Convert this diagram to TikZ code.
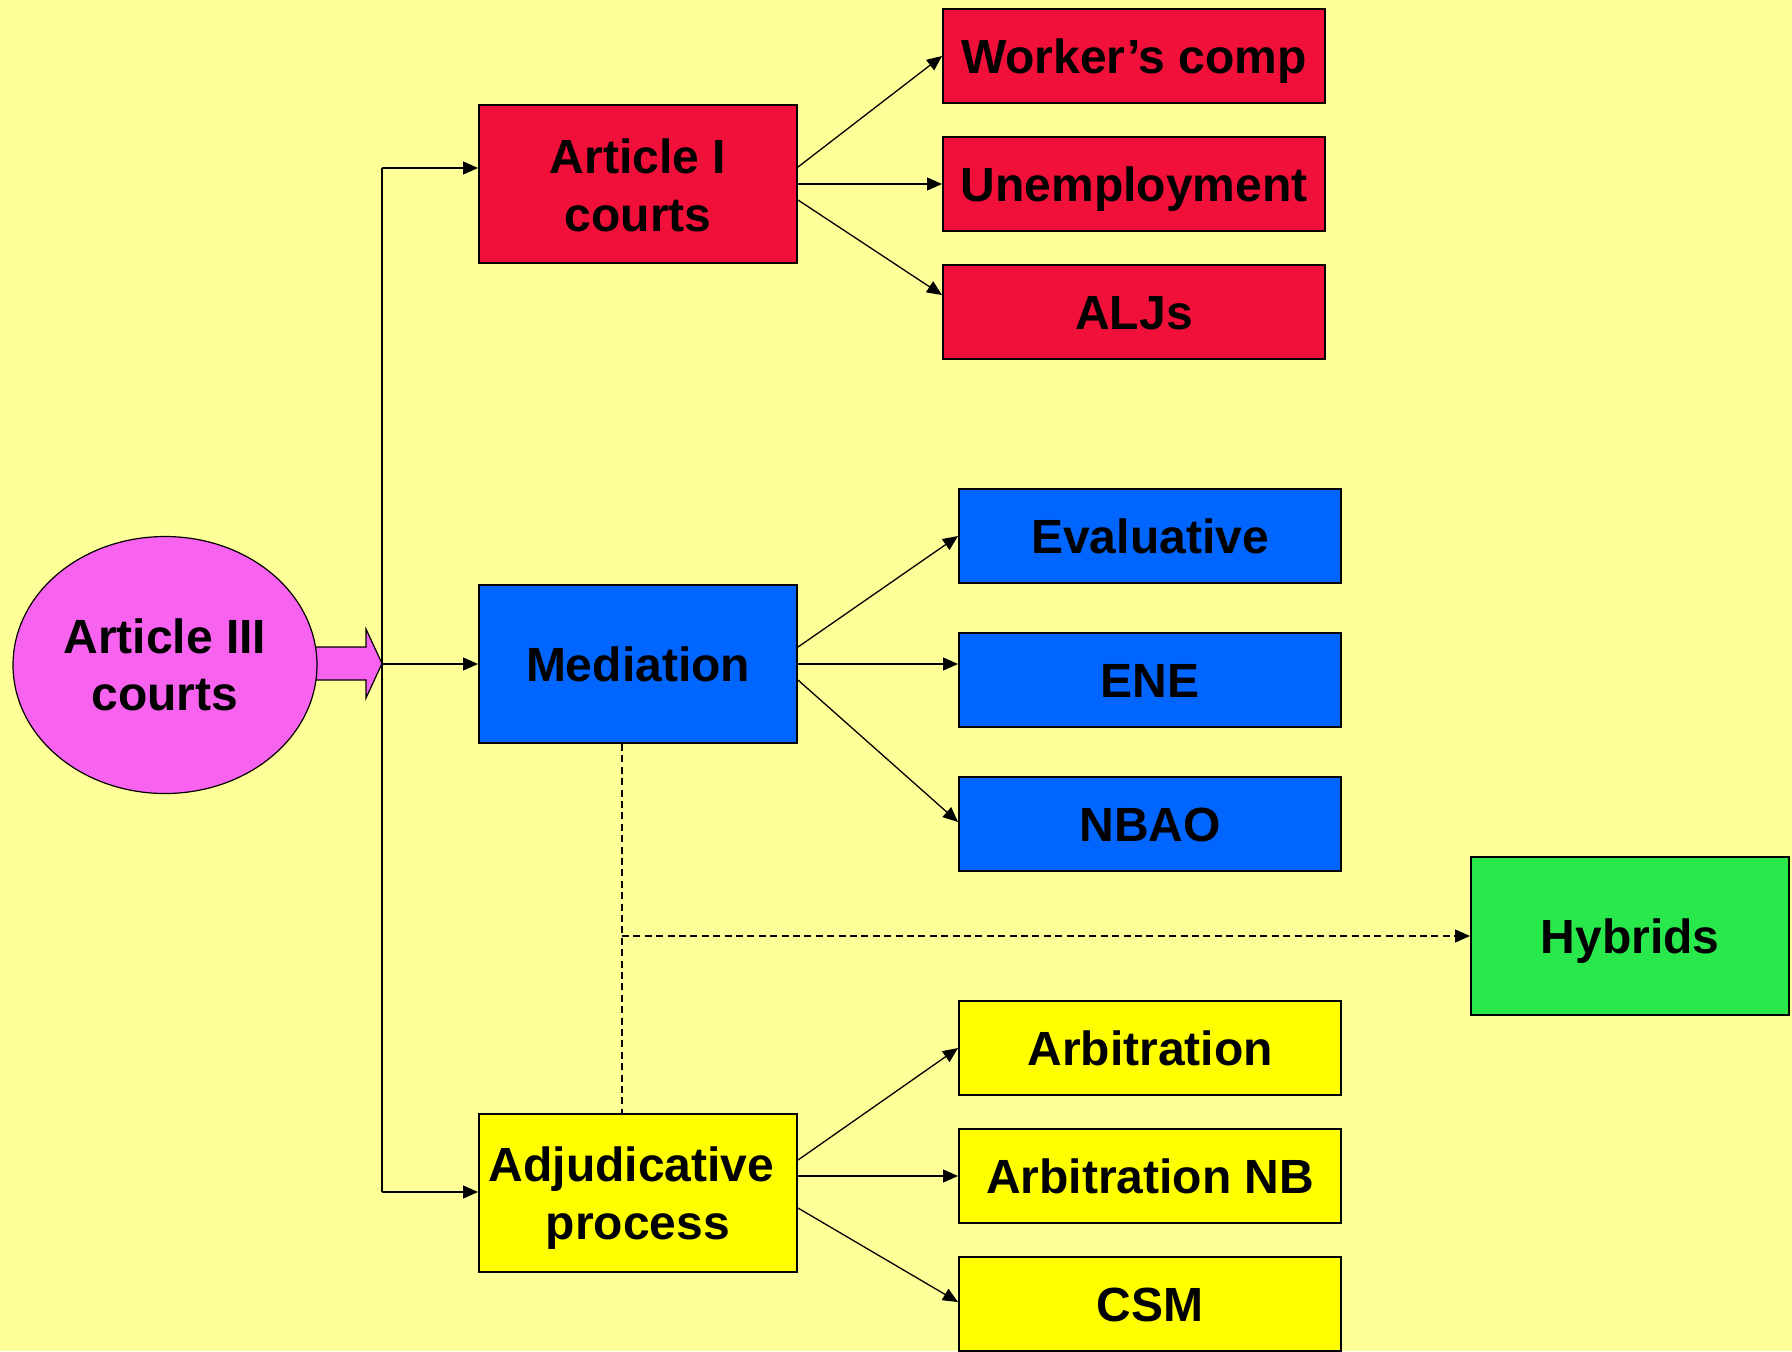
\documentclass[tikz,border=0pt]{standalone}
\usepackage{fontspec}
\setmainfont{Liberation Sans}
\usetikzlibrary{arrows.meta,calc,shapes.geometric}
\definecolor{bgyellow}{HTML}{FFFF99}
\definecolor{boxred}{HTML}{F0103A}
\definecolor{boxblue}{HTML}{0066FF}
\definecolor{boxgreen}{HTML}{28E84C}
\definecolor{boxyellow}{HTML}{FFFF00}
\definecolor{ovalpink}{HTML}{F763EE}
\tikzset{
  lbl/.style={font=\fontsize{24pt}{28.8pt}\selectfont\bfseries, align=center, text=black},
  oneline/.style={text height=17.2pt, text depth=0pt},
  bigbox/.style={lbl, draw=black, line width=1pt, rectangle, minimum width=159pt, minimum height=79pt, inner sep=0pt},
  smallbox/.style={lbl, oneline, draw=black, line width=1pt, rectangle, minimum width=191pt, minimum height=47pt, inner sep=0pt},
  conn/.style={draw=black, line width=0.65pt, -{Triangle[length=7.5pt,width=6.5pt]}},
  trunk/.style={draw=black, line width=0.65pt},
  dashconn/.style={draw=black, line width=0.65pt, dash pattern=on 3.5pt off 2.2pt},
}
\begin{document}
\begin{tikzpicture}[x=0.5pt,y=-0.5pt]
\fill[bgyellow] (0,0) rectangle (1792,1351);
\useasboundingbox (0,0) rectangle (1792,1351);

% fat arrow from the oval
\filldraw[fill=ovalpink, draw=black, line width=0.6pt]
  (300,647) -- (366,647) -- (366,629) -- (382,663.5) -- (366,698) -- (366,680) -- (300,680) -- cycle;
\node[lbl, ellipse, draw=black, line width=0.6pt, fill=ovalpink, minimum width=152pt, minimum height=128.5pt, inner sep=0pt] (a3) at (165,665) {Article III\\courts};

% middle column
\node[bigbox, fill=boxred] (art1) at (638,184) {\raisebox{-3.5pt}[\height][\depth]{\begin{tabular}{@{}c@{}}Article I\\courts\end{tabular}}};
\node[bigbox, oneline, fill=boxblue] (med) at (638,664) {Mediation};
\node[bigbox, fill=boxyellow] (adj) at (638,1193) {\raisebox{-3pt}[\height][\depth]{\begin{tabular}{@{}c@{}}Adjudicative\hspace*{6.5pt}\\process\end{tabular}}};

% right column
\node[smallbox, fill=boxred] (wc) at (1134,56) {Worker’s comp};
\node[smallbox, fill=boxred] (une) at (1134,184) {Unemployment};
\node[smallbox, fill=boxred] (alj) at (1134,312) {ALJs};
\node[smallbox, fill=boxblue] (eva) at (1150,536) {Evaluative};
\node[smallbox, fill=boxblue] (ene) at (1150,680) {ENE};
\node[smallbox, fill=boxblue] (nbao) at (1150,824) {NBAO};
\node[smallbox, fill=boxyellow] (arb) at (1150,1048) {Arbitration};
\node[smallbox, fill=boxyellow] (arbnb) at (1150,1176) {Arbitration NB};
\node[smallbox, fill=boxyellow] (csm) at (1150,1304) {CSM};
\node[bigbox, oneline, fill=boxgreen] (hyb) at (1630,936) {Hybrids};

% trunk
\coordinate (ttop) at (382,168);
\coordinate (tmid) at (382,664);
\coordinate (tbot) at (382,1192);
\draw[trunk] (ttop) -- (tbot);
\draw[conn] (ttop) -- ($(art1.west)+(0,-16)$);
\draw[conn] (tmid) -- (med.west);
\draw[conn] (tbot) -- ($(adj.west)+(0,-1)$);

% Article I fan
\draw[conn] ($(art1.east)+(0,-17)$) -- (wc.west);
\draw[conn] (art1.east) -- (une.west);
\draw[conn] ($(art1.east)+(0,16)$) -- ($(alj.west)+(0,-17)$);

% Mediation fan
\draw[conn] ($(med.east)+(0,-17)$) -- (eva.west);
\draw[conn] (med.east) -- ($(ene.west)+(0,-16)$);
\draw[conn] ($(med.east)+(0,16)$) -- ($(nbao.west)+(0,-2)$);

% Adjudicative fan
\draw[conn] ($(adj.east)+(0,-33)$) -- (arb.west);
\draw[conn] ($(adj.east)+(0,-17)$) -- (arbnb.west);
\draw[conn] ($(adj.east)+(0,15)$) -- ($(csm.west)+(0,-2)$);

% dashed links to Hybrids
\coordinate (dj) at (622,936);
\draw[dashconn] ($(med.south)+(-16,0)$) -- ($(adj.north)+(-16,0)$);
\draw[dashconn, -{Triangle[length=7.5pt,width=6.5pt]}] (dj) -- (hyb.west);
\end{tikzpicture}
\end{document}
